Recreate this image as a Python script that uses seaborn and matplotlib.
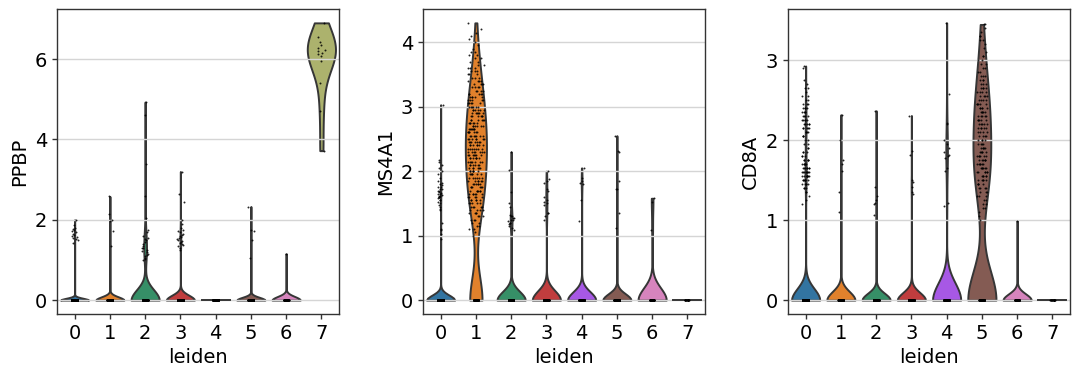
import numpy as np
import pandas as pd
import matplotlib
matplotlib.use("Agg")
import matplotlib.pyplot as plt
import seaborn as sns

# ---------------- data ----------------
CLUSTERS = ["0", "1", "2", "3", "4", "5", "6", "7"]
PALETTE = ["#1f77b4", "#ff7f0e", "#279e68", "#d62728",
           "#aa40fc", "#8c564b", "#e377c2", "#b5bd61"]
GENES = ["PPBP", "MS4A1", "CD8A"]

# number of cells with zero expression per cluster
PPBP_ZEROS = [1135, 334, 150, 400, 160, 295, 36, 0]
MS4A1_ZEROS = [1108, 68, 200, 185, 153, 292, 34, 14]
CD8A_ZEROS = [1030, 200, 220, 250, 145, 135, 36, 14]

# non-zero expression values per cluster
PPBP_0 = [1.42, 1.5, 1.52, 1.55, 1.58, 1.6, 1.62, 1.65, 1.7, 1.72, 1.75, 1.76, 1.8, 1.88, 2.0]
PPBP_1 = [1.35, 1.72, 1.97, 2.0, 2.15, 2.58]
PPBP_2 = [1.0, 1.02, 1.05, 1.1, 1.12, 1.15, 1.2, 1.22, 1.25, 1.3, 1.3, 1.35, 1.4, 1.45,
          1.5, 1.52, 1.55, 1.6, 1.7, 1.75, 2.05, 2.6, 3.4, 4.6, 4.93]
PPBP_3 = [1.25, 1.3, 1.35, 1.38, 1.4, 1.42, 1.45, 1.48, 1.5, 1.52, 1.55, 1.58, 1.6, 1.62,
          1.65, 1.7, 1.72, 1.75, 1.8, 1.9, 2.0, 2.45, 2.65, 3.2]
PPBP_4 = []
PPBP_5 = [1.05, 1.5, 1.72, 1.75, 2.33]
PPBP_6 = [1.15]
PPBP_7 = [3.72, 4.7, 5.4, 5.95, 6.08, 6.12, 6.15, 6.2, 6.22, 6.28, 6.35, 6.42, 6.55, 6.9]

MS4A1_0 = [0.95, 1.02, 1.08, 1.1, 1.2, 1.4, 1.42, 1.45, 1.48, 1.5, 1.52, 1.55, 1.55, 1.58,
           1.6, 1.6, 1.6, 1.62, 1.62, 1.63, 1.65, 1.65, 1.66, 1.68, 1.7, 1.7, 1.72, 1.73,
           1.75, 1.75, 1.78, 1.8, 1.82, 1.85, 1.9, 1.95, 2.0, 2.05, 2.1, 2.15, 2.18, 3.03]
MS4A1_1_VALUES = [1.00, 1.05, 1.10, 1.15, 1.20, 1.25, 1.30, 1.35, 1.40, 1.45, 1.50, 1.55,
                  1.60, 1.65, 1.70, 1.75, 1.80, 1.85, 1.90, 1.95, 2.00, 2.05, 2.10, 2.15,
                  2.20, 2.25, 2.30, 2.35, 2.40, 2.45, 2.50, 2.55, 2.60, 2.65, 2.70, 2.75,
                  2.80, 2.85, 2.90, 2.95, 3.00, 3.05, 3.10, 3.15, 3.20, 3.25, 3.30, 3.35,
                  3.40, 3.45, 3.50, 3.55, 3.60, 3.65, 3.70, 3.75, 3.80, 3.85, 3.90, 3.95,
                  4.00, 4.05, 4.10, 4.15, 4.20, 4.30]
MS4A1_1_COUNTS = [1, 1, 2, 2, 2, 3, 3, 4, 4, 5, 5, 5,
                  5, 6, 6, 6, 6, 6, 6, 6, 6, 6, 6, 7,
                  7, 7, 7, 7, 7, 7, 7, 7, 7, 7, 6, 6,
                  6, 6, 6, 6, 6, 5, 5, 5, 5, 4, 4, 4,
                  4, 3, 3, 3, 3, 2, 2, 2, 2, 2, 1, 1,
                  1, 1, 1, 1, 1, 1]
MS4A1_2 = [1.08, 1.12, 1.15, 1.18, 1.2, 1.2, 1.22, 1.25, 1.25, 1.27, 1.28, 1.3, 1.3, 1.32,
           1.45, 1.5, 1.68, 2.02, 2.3]
MS4A1_3 = [1.25, 1.3, 1.35, 1.35, 1.48, 1.5, 1.52, 1.55, 1.6, 1.7, 1.72, 1.82, 1.85, 1.88, 2.0]
MS4A1_4 = [1.22, 1.55, 1.8, 1.82, 1.85, 1.9, 2.05]
MS4A1_5 = [1.12, 1.35, 1.72, 1.72, 1.85, 2.3, 2.32, 2.55]
MS4A1_6 = [1.08, 1.52, 1.58]
MS4A1_7 = []

CD8A_0_VALUES = [1.20, 1.25, 1.30, 1.35, 1.40, 1.45, 1.50, 1.55, 1.60, 1.65, 1.70, 1.75,
                 1.80, 1.85, 1.90, 1.95, 2.00, 2.05, 2.10, 2.15, 2.20, 2.25, 2.30, 2.35,
                 2.40, 2.45, 2.50, 2.55, 2.60, 2.65, 2.70, 2.75, 2.90, 2.93]
CD8A_0_COUNTS = [1, 1, 1, 2, 3, 5, 7, 8, 8, 7, 6, 5,
                 3, 3, 2, 2, 3, 3, 4, 5, 5, 5, 4, 4,
                 4, 3, 2, 2, 1, 2, 1, 1, 1, 1]
CD8A_1 = [1.1, 1.35, 1.62, 1.7, 1.75, 2.0, 2.32]
CD8A_2 = [1.07, 1.2, 1.22, 1.25, 1.3, 1.42, 2.37]
CD8A_3 = [1.33, 1.35, 1.42, 1.48, 1.5, 1.82, 1.87, 2.31]
CD8A_4 = [1.18, 1.22, 1.62, 1.65, 1.78, 1.8, 1.82, 1.85, 1.9, 1.95, 2.0, 2.2, 2.22, 2.58, 3.47]
CD8A_5_VALUES = [1.00, 1.05, 1.10, 1.15, 1.20, 1.25, 1.30, 1.35, 1.40, 1.45, 1.50, 1.55,
                 1.60, 1.65, 1.70, 1.75, 1.80, 1.85, 1.90, 1.95, 2.00, 2.05, 2.10, 2.15,
                 2.20, 2.25, 2.30, 2.35, 2.40, 2.45, 2.50, 2.55, 2.60, 2.65, 2.70, 2.75,
                 2.80, 2.85, 2.90, 2.95, 3.00, 3.05, 3.10, 3.15, 3.20, 3.25, 3.30, 3.35,
                 3.40, 3.45]
CD8A_5_COUNTS = [1, 1, 1, 2, 2, 2, 3, 3, 4, 4, 5, 5,
                 6, 6, 6, 6, 6, 5, 5, 4, 4, 4, 4, 5,
                 5, 5, 5, 5, 5, 5, 4, 4, 4, 4, 3, 3,
                 3, 2, 2, 2, 2, 2, 1, 1, 1, 2, 2, 1,
                 1, 2]
CD8A_6 = [0.99]
CD8A_7 = []

YTICKS = {"PPBP": [0, 2, 4, 6], "MS4A1": [0, 1, 2, 3, 4], "CD8A": [0, 1, 2, 3]}

# ---------------- assemble ----------------
def expand(vals, counts=None):
    vals = np.asarray(vals, dtype=float)
    if counts is None:
        return vals
    return np.repeat(vals, counts)

NONZERO = {
    "PPBP": [expand(PPBP_0), expand(PPBP_1), expand(PPBP_2), expand(PPBP_3),
             expand(PPBP_4), expand(PPBP_5), expand(PPBP_6), expand(PPBP_7)],
    "MS4A1": [expand(MS4A1_0), expand(MS4A1_1_VALUES, MS4A1_1_COUNTS), expand(MS4A1_2),
              expand(MS4A1_3), expand(MS4A1_4), expand(MS4A1_5), expand(MS4A1_6),
              expand(MS4A1_7)],
    "CD8A": [expand(CD8A_0_VALUES, CD8A_0_COUNTS), expand(CD8A_1), expand(CD8A_2),
             expand(CD8A_3), expand(CD8A_4), expand(CD8A_5_VALUES, CD8A_5_COUNTS),
             expand(CD8A_6), expand(CD8A_7)],
}
ZEROS = {"PPBP": PPBP_ZEROS, "MS4A1": MS4A1_ZEROS, "CD8A": CD8A_ZEROS}

# style knobs (not data)
VIOLIN_WIDTH = {"PPBP": [0.8] * 8,
                "MS4A1": [0.8, 0.6, 0.8, 0.8, 0.8, 0.8, 0.8, 0.8],
                "CD8A": [0.8] * 8}
JITTER = {"PPBP": [0.1, 0.1, 0.1, 0.1, 0.1, 0.1, 0.1, 0.12],
          "MS4A1": [0.08, 0.23, 0.08, 0.08, 0.08, 0.08, 0.08, 0.08],
          "CD8A": [0.1, 0.08, 0.08, 0.08, 0.08, 0.14, 0.08, 0.08]}

np.random.seed(0)
plt.rcParams["font.family"] = ["DejaVu Sans"]
plt.rcParams["font.size"] = 14

fig = plt.figure(figsize=(10.8, 3.78), dpi=100)
lefts = [57, 423, 788]
for gi, gene in enumerate(GENES):
    ax = fig.add_axes([lefts[gi] / 1080, 64 / 378, 282 / 1080, 305 / 378])
    for ci, cat in enumerate(CLUSTERS):
        nz = NONZERO[gene][ci]
        z = np.zeros(ZEROS[gene][ci])
        y = np.concatenate([z, nz])
        if len(y) == 0:
            continue
        x = pd.Categorical([cat] * len(y), categories=CLUSTERS)
        sns.violinplot(x=x, y=y, order=CLUSTERS, color=PALETTE[ci],
                       width=VIOLIN_WIDTH[gene][ci], cut=0, inner=None,
                       density_norm="width", linewidth=1.4, linecolor="#363636",
                       saturation=0.75, ax=ax)
        if len(z):
            sns.stripplot(x=pd.Categorical([cat] * len(z), categories=CLUSTERS), y=z,
                          order=CLUSTERS, jitter=0.07, size=1.5, color="black",
                          linewidth=0, ax=ax, zorder=3)
        if len(nz):
            sns.stripplot(x=pd.Categorical([cat] * len(nz), categories=CLUSTERS), y=nz,
                          order=CLUSTERS, jitter=JITTER[gene][ci], size=1.4,
                          color="black", linewidth=0, alpha=0.85, ax=ax, zorder=3)
    ax.set_xlim(-0.5, 7.5)
    ax.set_yticks(YTICKS[gene])
    ax.set_xlabel("leiden", fontsize=14)
    ax.set_ylabel(gene, fontsize=14)
    ax.yaxis.grid(True, color="#d5d5d5", linewidth=1.0)
    ax.xaxis.grid(False)
    ax.set_axisbelow("line")
    ax.tick_params(labelsize=14, length=3.5, width=1, color="#333333")
    for s in ax.spines.values():
        s.set_color("#333333")
        s.set_linewidth(1.0)

fig.savefig("out.png", dpi=100)
